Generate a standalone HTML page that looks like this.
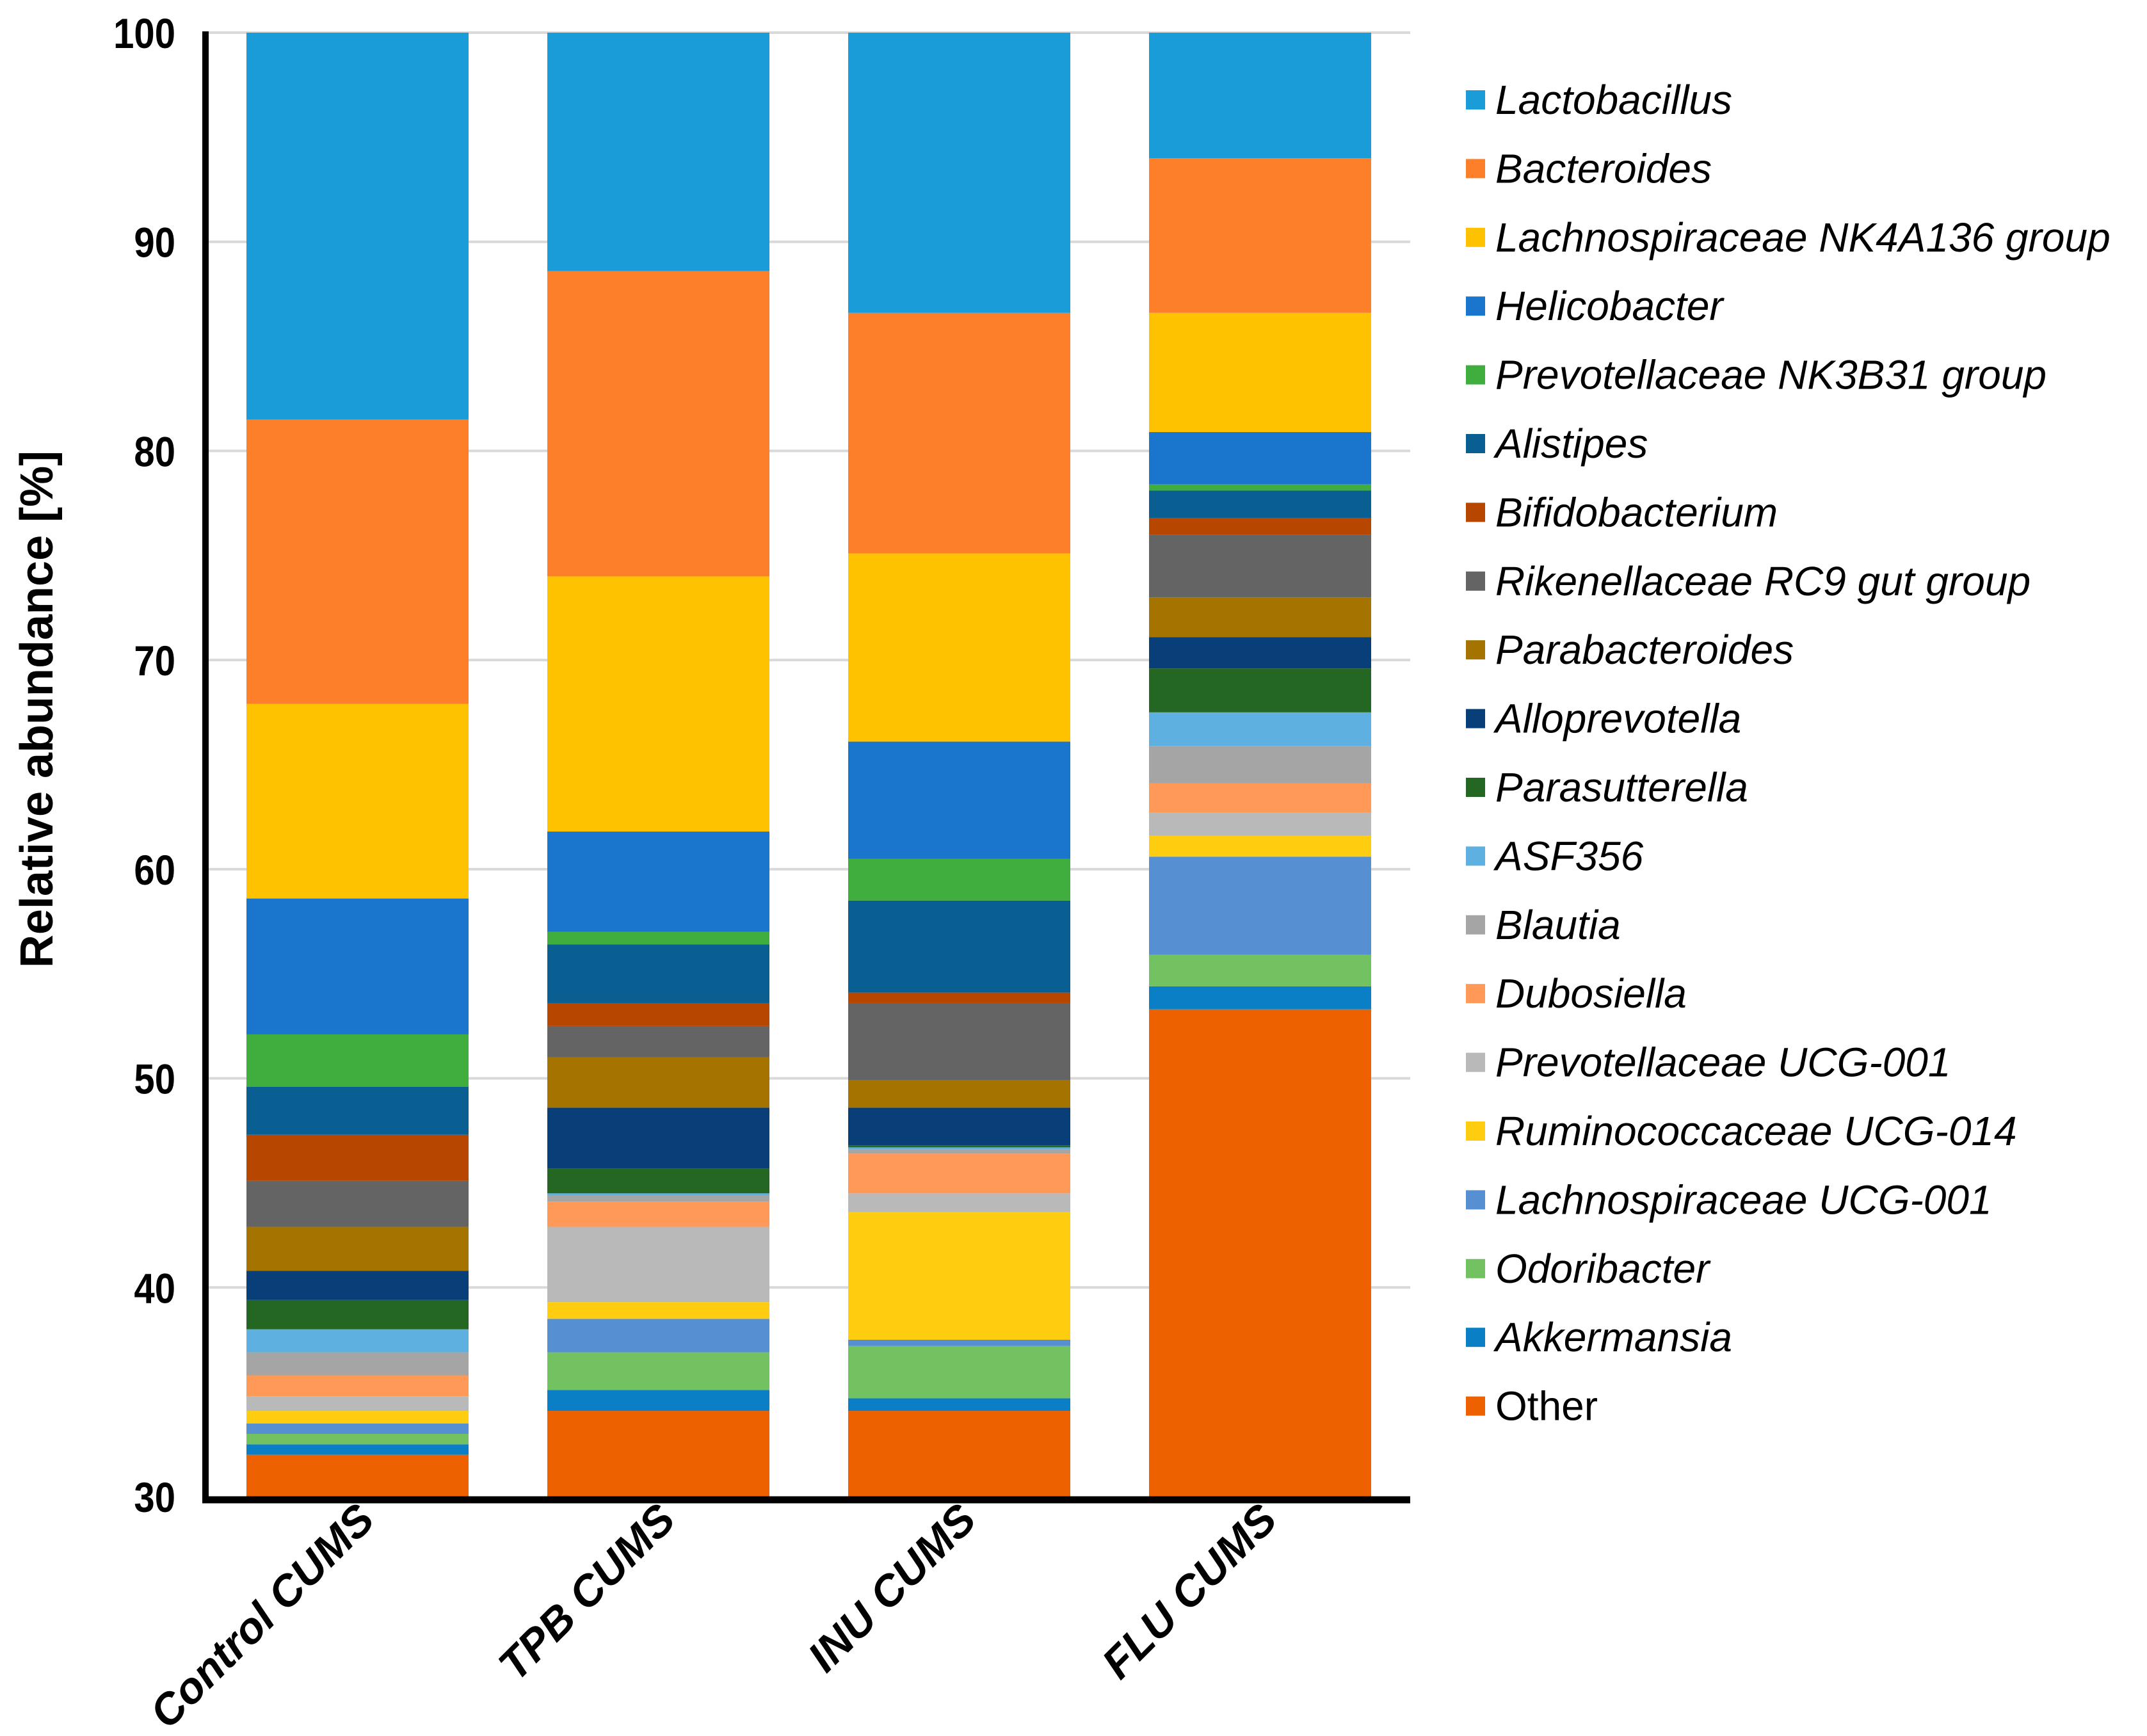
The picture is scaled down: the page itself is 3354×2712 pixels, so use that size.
<!DOCTYPE html>
<html><head><meta charset="utf-8"><style>
html,body{margin:0;padding:0;background:#fff}
svg{display:block}
text{font-family:"Liberation Sans",Arial,sans-serif}
</style></head><body>
<svg id="chart" xmlns="http://www.w3.org/2000/svg" width="3354" height="2712" viewBox="0 0 3354 2712">
<g id="grid"></g><g id="bars"></g><g id="axes"></g><g id="legend"></g>
<text x="0" y="0" transform="translate(82,1108) rotate(-90)" text-anchor="middle" font-size="72" font-weight="bold" fill="#000">Relative abundance [%]</text>
</svg>
<script>
const categories = ["Control CUMS","TPB CUMS","INU CUMS","FLU CUMS"];
const seriesNames = ["Other","Akkermansia","Odoribacter","Lachnospiraceae UCG-001","Ruminococcaceae UCG-014","Prevotellaceae UCG-001","Dubosiella","Blautia","ASF356","Parasutterella","Alloprevotella","Parabacteroides","Rikenellaceae RC9 gut group","Bifidobacterium","Alistipes","Prevotellaceae NK3B31 group","Helicobacter","Lachnospiraceae NK4A136 group","Bacteroides","Lactobacillus"];
const seriesColors = ["#ed6100","#0a7fc5","#72c262","#5690d3","#fecd10","#b9b9b9","#ff9957","#a5a5a5","#5db0e0","#246723","#093f78","#a47300","#646464","#b64600","#0a5f92","#3fae3f","#1a75cd","#fec200","#fe7f2a","#1a9cd8"];
const controlValues = [32.0,0.5,0.5,0.5,0.6,0.7,1.0,1.1,1.1,1.4,1.4,2.1,2.2,2.2,2.3,2.5,6.5,9.3,13.6,18.5];
const tpbValues = [34.1,1.0,1.8,1.6,0.8,3.6,1.2,0.3,0.1,1.2,2.9,2.4,1.5,1.1,2.8,0.6,4.8,12.2,14.6,11.4];
const inuValues = [34.1,0.6,2.5,0.3,6.1,0.9,1.9,0.2,0.1,0.1,1.8,1.3,3.7,0.5,4.4,2.0,5.6,9.0,11.5,13.4];
const fluValues = [53.3,1.1,1.5,4.7,1.0,1.1,1.4,1.8,1.6,2.1,1.5,1.9,3.0,0.8,1.3,0.3,2.5,5.7,7.4,6.0];
const yTicks = [30,40,50,60,70,80,90,100];
const italicFlags = [false,true,true,true,true,true,true,true,true,true,true,true,true,true,true,true,true,true,true,true];

const NS="http://www.w3.org/2000/svg";
const Y0=30,Y1=100,PY0=2338,PY1=51;
function yScale(v){return PY0-(v-Y0)/(Y1-Y0)*(PY0-PY1);}
const X0=321,PITCH=470,BW=347,FIRST=385;
function xScale(i){return FIRST+i*PITCH;}
function mk(tag,attrs,parent){const e=document.createElementNS(NS,tag);for(const k in attrs)e.setAttribute(k,attrs[k]);parent.appendChild(e);return e;}
const grid=document.getElementById('grid'),bars=document.getElementById('bars'),axes=document.getElementById('axes'),legend=document.getElementById('legend');
yTicks.forEach(t=>{
  if(t>Y0){const l=mk('line',{x1:X0,x2:2203,y1:yScale(t),y2:yScale(t),stroke:'#d9d9d9','stroke-width':4},grid);
  
  }
  const tx=mk('text',{x:0,y:0,transform:'translate(274,'+(yScale(t)+24)+') scale(0.88,1)','text-anchor':'end','font-size':66,'font-weight':'bold'},axes);
  tx.textContent=t;
  
  
});
const allValues=[controlValues,tpbValues,inuValues,fluValues];
allValues.forEach((vals,ci)=>{
  let cum=0;
  vals.forEach((v,si)=>{
    const lo=Math.max(cum,Y0),hi=Math.min(cum+v,Y1);cum+=v;
    if(hi<=lo)return;
    const r=mk('rect',{x:xScale(ci),width:BW,y:yScale(hi),height:yScale(lo)-yScale(hi),fill:seriesColors[si]},bars);
    
    
  });
  const cx=xScale(ci)+BW/2+30;
  const lab=mk('text',{x:0,y:0,transform:'translate('+cx+',2378) rotate(-45)','text-anchor':'end','font-size':68,'font-weight':'bold','font-style':'italic'},axes);
  lab.textContent=categories[ci];
  
  
});
const ya=mk('line',{x1:X0,x2:X0,y1:PY1-2,y2:2345,stroke:'#000','stroke-width':10},axes);


const xa=mk('line',{x1:X0-5,x2:2203,y1:2343,y2:2343,stroke:'#000','stroke-width':11},axes);


for(let k=0;k<seriesNames.length;k++){
  const si=seriesNames.length-1-k;
  const y=156+k*107.4;
  const sq=mk('rect',{x:2290,y:y-15,width:30,height:30,fill:seriesColors[si]},legend);
  
  
  const t=mk('text',{x:2336,y:y+22,'font-size':64,'font-style':italicFlags[si]?'italic':'normal'},legend);
  t.textContent=seriesNames[si];
  
  
}
</script>
</body></html>
